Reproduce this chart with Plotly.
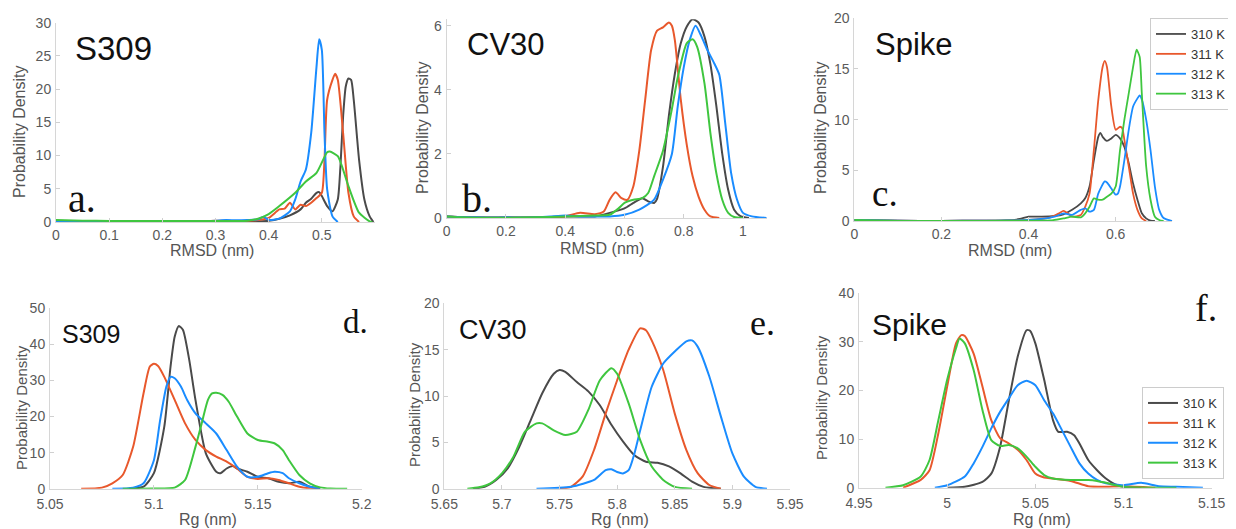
import plotly.graph_objects as go

W, H = 1236, 529
OX, OY = 8, 8            # page body margin of the browser
FW, FH = W - OX, H - OY  # figure size that fills the window

TEMPS = ["310 K", "311 K", "312 K", "313 K"]
COLORS = ["#4a4a4a", "#e8582c", "#1a8cff", "#3fc63f"]

# ---------- Panel a: S309 RMSD ----------
A_310_X = [0, 0.1, 0.2, 0.3, 0.38, 0.40, 0.42, 0.44, 0.46, 0.47, 0.48, 0.49, 0.495, 0.50, 0.51, 0.52, 0.53, 0.535, 0.54, 0.545, 0.55, 0.555, 0.56, 0.57, 0.58, 0.59, 0.597]
A_310_Y = [0.1, 0.05, 0.05, 0.05, 0.1, 0.2, 0.5, 1.0, 1.9, 2.9, 3.5, 4.4, 4.5, 3.9, 2.4, 1.6, 3.4, 8.4, 15.9, 20.4, 21.6, 21.4, 18.4, 9.4, 3.4, 0.85, 0.0]
A_311_X = [0, 0.1, 0.2, 0.28, 0.3, 0.34, 0.38, 0.40, 0.42, 0.43, 0.44, 0.45, 0.46, 0.47, 0.48, 0.49, 0.50, 0.505, 0.51, 0.52, 0.525, 0.53, 0.54, 0.55, 0.56, 0.57]
A_311_Y = [0.1, 0.05, 0.05, 0.1, 0.2, 0.15, 0.3, 0.6, 1.9, 2.0, 2.9, 1.9, 2.6, 2.4, 2.9, 3.6, 4.4, 9.4, 18.4, 21.4, 22.3, 21.4, 13.4, 4.4, 0.85, 0.0]
A_312_X = [0, 0.1, 0.2, 0.27, 0.30, 0.32, 0.34, 0.36, 0.38, 0.39, 0.40, 0.42, 0.44, 0.45, 0.46, 0.47, 0.48, 0.49, 0.495, 0.50, 0.505, 0.51, 0.52, 0.53]
A_312_Y = [0.1, 0.05, 0.05, 0.1, 0.2, 0.3, 0.25, 0.3, 0.4, 0.8, 0.3, 0.5, 1.6, 3.4, 6.1, 7.9, 13.4, 23.4, 27.5, 25.9, 13.4, 4.9, 0.85, 0.0]
A_313_X = [0, 0.05, 0.1, 0.2, 0.3, 0.36, 0.38, 0.40, 0.42, 0.45, 0.47, 0.49, 0.51, 0.515, 0.53, 0.55, 0.57, 0.59, 0.595]
A_313_Y = [0.3, 0.2, 0.15, 0.15, 0.15, 0.2, 0.5, 1.2, 2.4, 4.4, 6.1, 7.4, 10.5, 10.6, 9.9, 5.4, 1.4, 0.1, 0.0]

# ---------- Panel b: CV30 RMSD ----------
B_310_X = [0, 0.1, 0.2, 0.3, 0.4, 0.45, 0.5, 0.55, 0.60, 0.63, 0.66, 0.68, 0.70, 0.71, 0.73, 0.75, 0.77, 0.79, 0.81, 0.83, 0.85, 0.87, 0.89, 0.91, 0.93, 0.95, 0.97, 0.99, 1.02]
B_310_Y = [0.05, 0.02, 0.02, 0.02, 0.05, 0.05, 0.05, 0.16, 0.3, 0.47, 0.62, 0.52, 0.47, 0.6, 1.6, 3.2, 4.5, 5.45, 5.97, 6.2, 6.1, 5.66, 4.8, 3.5, 2.0, 0.88, 0.26, 0.07, 0.0]
B_311_X = [0, 0.1, 0.2, 0.3, 0.35, 0.40, 0.45, 0.50, 0.53, 0.55, 0.57, 0.59, 0.61, 0.63, 0.65, 0.67, 0.69, 0.71, 0.73, 0.75, 0.76, 0.77, 0.79, 0.81, 0.83, 0.85, 0.87, 0.89, 0.92]
B_311_Y = [0.05, 0.02, 0.02, 0.02, 0.03, 0.05, 0.16, 0.12, 0.2, 0.57, 0.8, 0.62, 0.57, 0.99, 2.1, 3.7, 5.24, 5.85, 5.95, 6.1, 6.0, 5.55, 3.7, 2.3, 1.3, 0.67, 0.26, 0.05, 0.0]
B_312_X = [0, 0.1, 0.2, 0.3, 0.35, 0.40, 0.45, 0.5, 0.55, 0.60, 0.65, 0.70, 0.73, 0.76, 0.78, 0.80, 0.82, 0.84, 0.86, 0.88, 0.90, 0.92, 0.94, 0.96, 0.98, 1.0, 1.03, 1.08]
B_312_Y = [0.05, 0.02, 0.02, 0.02, 0.05, 0.08, 0.05, 0.05, 0.05, 0.1, 0.26, 0.57, 1.2, 2.0, 3.5, 4.7, 5.55, 6.0, 5.66, 5.24, 4.88, 4.47, 2.96, 1.4, 0.57, 0.16, 0.05, 0.0]
B_313_X = [0, 0.05, 0.1, 0.2, 0.3, 0.4, 0.5, 0.55, 0.58, 0.60, 0.63, 0.66, 0.68, 0.70, 0.73, 0.76, 0.78, 0.81, 0.83, 0.845, 0.87, 0.89, 0.91, 0.93, 0.95, 0.97, 1.0]
B_313_Y = [0.05, 0.02, 0.01, 0.01, 0.02, 0.05, 0.08, 0.1, 0.3, 0.47, 0.57, 0.62, 0.78, 1.3, 2.1, 3.4, 4.4, 5.45, 5.58, 5.35, 4.2, 2.65, 1.4, 0.57, 0.16, 0.03, 0.0]

# ---------- Panel c: Spike RMSD ----------
C_310_X = [0, 0.1, 0.2, 0.3, 0.35, 0.38, 0.40, 0.43, 0.46, 0.48, 0.50, 0.52, 0.53, 0.54, 0.55, 0.56, 0.565, 0.57, 0.58, 0.59, 0.60, 0.61, 0.62, 0.63, 0.64, 0.65, 0.66, 0.67, 0.68, 0.69]
C_310_Y = [0.1, 0.03, 0.02, 0.03, 0.05, 0.2, 0.43, 0.43, 0.5, 0.66, 1.1, 1.74, 2.24, 3.4, 6.0, 8.3, 8.7, 8.3, 7.9, 8.15, 8.5, 8.15, 7.3, 5.7, 3.7, 2.1, 0.76, 0.26, 0.03, 0.0]
C_311_X = [0, 0.1, 0.2, 0.3, 0.35, 0.40, 0.45, 0.47, 0.48, 0.49, 0.50, 0.52, 0.53, 0.54, 0.55, 0.56, 0.57, 0.575, 0.58, 0.59, 0.60, 0.61, 0.615, 0.62, 0.63, 0.64, 0.65, 0.66, 0.67]
C_311_Y = [0.1, 0.03, 0.02, 0.03, 0.05, 0.1, 0.36, 0.76, 1.0, 0.76, 0.43, 0.6, 1.4, 2.7, 7.0, 11.9, 15.2, 15.8, 15.2, 11.3, 9.0, 9.3, 9.15, 8.0, 5.4, 2.7, 1.1, 0.26, 0.0]
C_312_X = [0, 0.1, 0.2, 0.3, 0.35, 0.40, 0.43, 0.46, 0.48, 0.50, 0.52, 0.53, 0.54, 0.55, 0.56, 0.575, 0.58, 0.59, 0.60, 0.605, 0.61, 0.62, 0.63, 0.64, 0.65, 0.655, 0.66, 0.67, 0.68, 0.69, 0.70, 0.71, 0.73]
C_312_Y = [0.1, 0.03, 0.02, 0.03, 0.05, 0.1, 0.2, 0.43, 0.76, 0.6, 1.1, 1.25, 0.92, 1.1, 2.7, 3.9, 3.8, 3.2, 2.6, 2.7, 3.4, 6.0, 9.0, 11.3, 12.1, 12.4, 12.0, 10.0, 7.0, 3.4, 1.1, 0.3, 0.0]
C_313_X = [0, 0.05, 0.1, 0.2, 0.3, 0.4, 0.45, 0.48, 0.50, 0.52, 0.53, 0.54, 0.55, 0.56, 0.57, 0.58, 0.59, 0.60, 0.61, 0.62, 0.63, 0.64, 0.648, 0.655, 0.66, 0.67, 0.68, 0.69, 0.70, 0.71]
C_313_Y = [0.1, 0.05, 0.02, 0.02, 0.02, 0.03, 0.05, 0.26, 0.43, 0.36, 0.76, 1.4, 2.24, 2.1, 2.1, 2.4, 2.7, 3.4, 7.0, 10.0, 12.6, 15.2, 16.9, 16.2, 12.6, 5.4, 2.1, 0.43, 0.1, 0.0]

# ---------- Panel d: S309 Rg ----------
D_310_X = [5.088, 5.095, 5.1, 5.105, 5.108, 5.11, 5.112, 5.114, 5.117, 5.12, 5.125, 5.13, 5.132, 5.135, 5.138, 5.14, 5.145, 5.15, 5.155, 5.16, 5.165, 5.17, 5.175, 5.18]
D_310_Y = [0, 0.55, 4.3, 17.2, 33.8, 42.1, 45.1, 44, 35.7, 24.6, 9.8, 4.7, 4.3, 5.6, 6.3, 5.6, 4.7, 3.3, 2.9, 1.9, 1.5, 1.9, 0.55, 0]
D_311_X = [5.065, 5.075, 5.08, 5.085, 5.09, 5.095, 5.098, 5.1, 5.102, 5.105, 5.11, 5.115, 5.12, 5.125, 5.13, 5.135, 5.14, 5.145, 5.15, 5.155, 5.16, 5.165, 5.17, 5.175, 5.18]
D_311_Y = [0, 0.3, 1.5, 3.8, 11.6, 26.4, 33.8, 34.6, 34, 31, 24.6, 18.1, 13.5, 10.7, 8.9, 7.5, 5.6, 3.3, 2.7, 2.9, 2.4, 1.5, 0.55, 0.1, 0]
D_312_X = [5.08, 5.09, 5.095, 5.1, 5.103, 5.106, 5.108, 5.11, 5.113, 5.116, 5.12, 5.125, 5.13, 5.135, 5.14, 5.145, 5.15, 5.155, 5.158, 5.162, 5.165, 5.17, 5.175, 5.18]
D_312_Y = [0, 0.3, 1.5, 7.9, 19, 28.3, 31, 30.6, 28.3, 24.6, 20.9, 18.1, 15.3, 10.7, 6.1, 3.3, 3.3, 4.3, 4.7, 4.3, 2.9, 1.5, 0.55, 0]
D_313_X = [5.085, 5.1, 5.11, 5.115, 5.12, 5.123, 5.126, 5.128, 5.13, 5.133, 5.136, 5.14, 5.145, 5.15, 5.155, 5.158, 5.162, 5.165, 5.17, 5.175, 5.18, 5.185, 5.193]
D_313_Y = [0, 0.05, 0.3, 2.4, 11.6, 18.1, 24.6, 26.4, 26.6, 26, 24.1, 20, 15.3, 13.5, 13, 12.6, 10.7, 7.9, 3.8, 1.5, 0.37, 0.05, 0]

# ---------- Panel e: CV30 Rg ----------
E_310_X = [5.675, 5.685, 5.695, 5.705, 5.715, 5.725, 5.735, 5.745, 5.75, 5.755, 5.765, 5.775, 5.785, 5.795, 5.805, 5.815, 5.825, 5.835, 5.845, 5.855, 5.865, 5.875, 5.89]
E_310_Y = [0, 0.2, 0.94, 2.2, 4.5, 7.4, 10.3, 12.4, 12.8, 12.6, 11.5, 10.5, 9.0, 6.9, 5.1, 3.6, 2.9, 2.8, 2.4, 1.65, 0.76, 0.2, 0]
E_311_X = [5.75, 5.76, 5.77, 5.78, 5.79, 5.80, 5.81, 5.82, 5.825, 5.83, 5.84, 5.85, 5.86, 5.87, 5.88, 5.89]
E_311_Y = [0, 0.2, 1.3, 4.2, 8.1, 11.7, 15.0, 17.3, 17.1, 16.0, 12.8, 8.1, 4.2, 1.65, 0.4, 0]
E_312_X = [5.73, 5.76, 5.78, 5.79, 5.795, 5.80, 5.805, 5.81, 5.815, 5.82, 5.83, 5.84, 5.85, 5.86, 5.865, 5.87, 5.88, 5.89, 5.90, 5.91, 5.92, 5.93]
E_312_Y = [0, 0.2, 0.94, 2.0, 2.1, 1.8, 1.65, 2.0, 3.8, 6.3, 11.0, 13.5, 14.8, 15.9, 16.0, 15.3, 12.1, 7.8, 3.8, 1.3, 0.2, 0]
E_313_X = [5.67, 5.68, 5.69, 5.70, 5.71, 5.72, 5.73, 5.735, 5.745, 5.755, 5.765, 5.775, 5.785, 5.795, 5.80, 5.81, 5.82, 5.83, 5.84, 5.85, 5.865]
E_313_Y = [0, 0.15, 0.58, 1.65, 3.45, 6.15, 7.05, 7.05, 6.3, 5.8, 6.15, 8.5, 11.7, 13.0, 12.4, 9.2, 5.25, 2.4, 0.94, 0.2, 0]

# ---------- Panel f: Spike Rg ----------
F_310_X = [5.0, 5.01, 5.02, 5.025, 5.03, 5.035, 5.04, 5.045, 5.047, 5.05, 5.055, 5.06, 5.063, 5.068, 5.072, 5.075, 5.08, 5.085, 5.09, 5.095, 5.1, 5.11]
F_310_Y = [0, 0.2, 1.2, 2.9, 8.4, 18, 27, 32.4, 32.3, 29.7, 22.2, 13.9, 11.5, 11.5, 10.8, 9.1, 5.7, 3.6, 1.9, 0.75, 0.2, 0]
F_311_X = [4.975, 4.985, 4.99, 4.995, 5.0, 5.005, 5.008, 5.01, 5.015, 5.02, 5.025, 5.03, 5.035, 5.04, 5.045, 5.05, 5.055, 5.06, 5.07, 5.08, 5.09, 5.1, 5.118]
F_311_Y = [0, 1.6, 3.6, 11.2, 20.8, 29.7, 31.4, 31.2, 27.6, 20.8, 13.9, 10.2, 9.1, 7.8, 5.7, 2.9, 2.1, 1.9, 1.4, 0.3, 0.2, 0.3, 0]
F_312_X = [4.993, 5.0, 5.01, 5.015, 5.02, 5.025, 5.03, 5.035, 5.04, 5.045, 5.05, 5.055, 5.06, 5.065, 5.07, 5.075, 5.08, 5.085, 5.09, 5.1, 5.11, 5.12, 5.13, 5.145]
F_312_Y = [0, 0.5, 2.3, 5.0, 8.4, 12.2, 15.6, 18.4, 21.1, 22.0, 21.1, 18, 15.3, 11.9, 8.4, 5.0, 2.9, 1.6, 0.9, 0.5, 1.0, 0.3, 0.2, 0]
F_313_X = [4.965, 4.975, 4.985, 4.99, 4.995, 5.0, 5.005, 5.007, 5.01, 5.015, 5.02, 5.025, 5.03, 5.035, 5.04, 5.045, 5.05, 5.055, 5.06, 5.07, 5.08, 5.085, 5.09, 5.1, 5.13]
F_313_Y = [0, 0.5, 2.3, 5.7, 13.9, 22.2, 28.7, 30.7, 29.7, 24.2, 16, 9.8, 8.6, 8.8, 8.1, 6.4, 4.3, 2.6, 1.9, 1.6, 1.6, 1.4, 1.0, 0.2, 0]

PANEL_NAMES = ["S309", "CV30", "Spike", "S309", "CV30", "Spike"]
PANEL_LETTERS = ["a.", "b.", "c.", "d.", "e.", "f."]
X_TITLES = ["RMSD (nm)", "RMSD (nm)", "RMSD (nm)", "Rg (nm)", "Rg (nm)", "Rg (nm)"]
Y_TITLE = "Probability Density"

PANELS = [
    [(A_310_X, A_310_Y), (A_311_X, A_311_Y), (A_312_X, A_312_Y), (A_313_X, A_313_Y)],
    [(B_310_X, B_310_Y), (B_311_X, B_311_Y), (B_312_X, B_312_Y), (B_313_X, B_313_Y)],
    [(C_310_X, C_310_Y), (C_311_X, C_311_Y), (C_312_X, C_312_Y), (C_313_X, C_313_Y)],
    [(D_310_X, D_310_Y), (D_311_X, D_311_Y), (D_312_X, D_312_Y), (D_313_X, D_313_Y)],
    [(E_310_X, E_310_Y), (E_311_X, E_311_Y), (E_312_X, E_312_Y), (E_313_X, E_313_Y)],
    [(F_310_X, F_310_Y), (F_311_X, F_311_Y), (F_312_X, F_312_Y), (F_313_X, F_313_Y)],
]

# ---------- layout (pixel geometry, window coordinates) ----------
BOXES = [
    (56, 375, 22.7, 222), (446.7, 766.7, 19.3, 218), (854.3, 1172.3, 18.3, 221),
    (50, 361.7, 308.3, 488.7), (444.3, 790, 303.3, 488.7), (859, 1211.7, 293.3, 487.7),
]
X_RANGES = [[0, 0.6], [0, 1.08], [0, 0.73], [5.05, 5.2], [5.65, 5.95], [4.95, 5.15]]
Y_RANGES = [[0, 30], [0, 6.2], [0, 20], [0, 50], [0, 20], [0, 40]]
X_TICKS = [[0, 0.1, 0.2, 0.3, 0.4, 0.5], [0, 0.2, 0.4, 0.6, 0.8, 1], [0, 0.2, 0.4, 0.6],
           [5.05, 5.1, 5.15, 5.2], [5.65, 5.7, 5.75, 5.8, 5.85, 5.9, 5.95], [4.95, 5, 5.05, 5.1, 5.15]]
Y_TICKS = [[0, 5, 10, 15, 20, 25, 30], [0, 2, 4, 6], [0, 5, 10, 15, 20],
           [0, 10, 20, 30, 40, 50], [0, 5, 10, 15, 20], [0, 10, 20, 30, 40]]
NAME_POS = [(113, 49, 33), (506, 44, 31), (914, 44, 31), (91, 334, 25), (493, 330, 27), (909, 324, 30)]
LETTER_POS = [(82, 198, 40), (477, 199, 40), (885, 193, 37), (355, 322, 33), (762, 323, 36), (1206, 308, 38)]
YTITLE_POS = [(20, 132), (423, 128), (821, 128), (21, 408), (414, 405), (821, 398)]
XTITLE_POS = [(212, 250), (602, 249), (1010, 250), (208, 519), (620, 519), (1042, 519)]

def px(x):
    return (x - OX) / FW

def py(y):
    return 1 - (y - OY) / FH

fig = go.Figure()
layout = dict(width=FW, height=FH, autosize=False,
              margin=dict(l=0, r=0, t=0, b=0, pad=0, autoexpand=False),
              paper_bgcolor="white", plot_bgcolor="white",
              font=dict(family="Liberation Sans, Arial, sans-serif", color="#555555"))
annotations = []
TICK_FONT = dict(family="Liberation Sans, Arial, sans-serif", size=14, color="#5a5a5a")

for i in range(6):
    n = i + 1
    xa = "xaxis" if n == 1 else f"xaxis{n}"
    ya = "yaxis" if n == 1 else f"yaxis{n}"
    xr = "x" if n == 1 else f"x{n}"
    yr = "y" if n == 1 else f"y{n}"
    l, r, t, b = BOXES[i]
    common = dict(showgrid=False, zeroline=False, showline=True, linecolor="#d6d6d6", linewidth=1,
                  ticks="inside", ticklen=4, tickcolor="#d0d0d0", tickfont=TICK_FONT, automargin=False)
    layout[xa] = dict(domain=[px(l), px(r)], range=X_RANGES[i], tickvals=X_TICKS[i],
                      anchor=yr, ticklabelstandoff=2 if i >= 3 else 0, **common)
    layout[ya] = dict(domain=[py(b), py(t)], range=Y_RANGES[i], tickvals=Y_TICKS[i],
                      anchor=xr, ticklabelstandoff=1, **common)
    for k, (xs, ys) in enumerate(PANELS[i]):
        leg = None
        if i == 2:
            leg = "legend"
        elif i == 5:
            leg = "legend2"
        fig.add_trace(go.Scatter(
            x=xs, y=ys, mode="lines", name=TEMPS[k],
            line=dict(color=COLORS[k], width=2 if i != 2 else 1.8, shape="spline", smoothing=0.6),
            xaxis=xr, yaxis=yr, showlegend=leg is not None,
            legend=leg if leg else "legend",
        ))
    nx, ny, ns = NAME_POS[i]
    annotations.append(dict(text=PANEL_NAMES[i], x=px(nx), y=py(ny), xref="paper", yref="paper",
                            showarrow=False, xanchor="center", yanchor="middle",
                            font=dict(family="Liberation Sans, Arial, sans-serif", size=ns, color="#111111")))
    lx, ly, ls = LETTER_POS[i]
    annotations.append(dict(text=PANEL_LETTERS[i], x=px(lx), y=py(ly), xref="paper", yref="paper",
                            showarrow=False, xanchor="center", yanchor="middle",
                            font=dict(family="Liberation Serif, Times New Roman, serif", size=ls, color="#111111")))
    tx, ty = YTITLE_POS[i]
    annotations.append(dict(text=Y_TITLE, x=px(tx), y=py(ty), xref="paper", yref="paper",
                            showarrow=False, xanchor="center", yanchor="middle", textangle=-90,
                            font=dict(family="Liberation Sans, Arial, sans-serif", size=16 if i < 3 else 15, color="#555555")))
    tx, ty = XTITLE_POS[i]
    annotations.append(dict(text=X_TITLES[i], x=px(tx), y=py(ty), xref="paper", yref="paper",
                            showarrow=False, xanchor="center", yanchor="middle",
                            font=dict(family="Liberation Sans, Arial, sans-serif", size=16, color="#555555")))

legend_common = dict(bgcolor="white", bordercolor="#cccccc", borderwidth=1, itemwidth=30,
                     tracegroupgap=0, xanchor="left", yanchor="top",
                     font=dict(family="Liberation Sans, Arial, sans-serif", size=13, color="#333333"))
layout["legend"] = dict(x=px(1150), y=py(18), **legend_common)
layout["legend2"] = dict(x=px(1142), y=py(387), **legend_common)
layout["annotations"] = annotations

fig.update_layout(**layout)
fig.write_html("out.html")
